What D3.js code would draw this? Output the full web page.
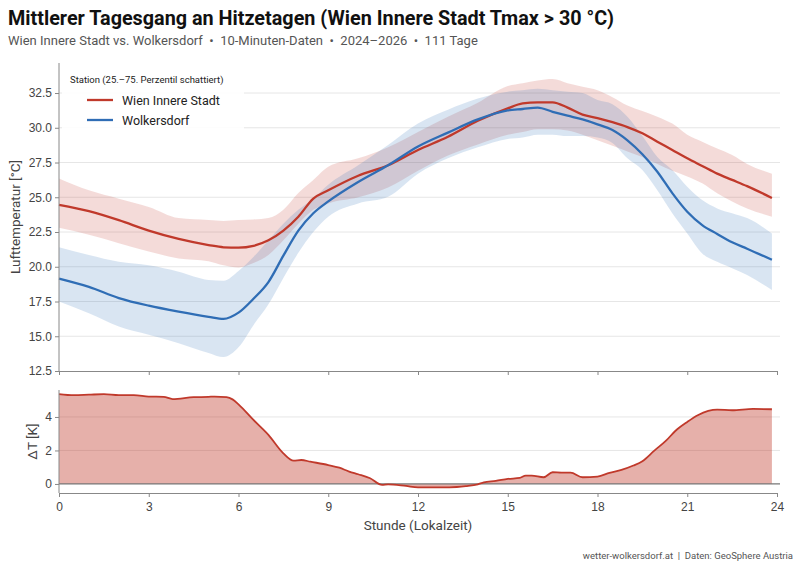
<!DOCTYPE html>
<html>
<head>
<meta charset="utf-8">
<script src="https://cdn.jsdelivr.net/npm/d3@7"></script>
<style>
  body { margin: 0; background: #fff; }
  svg { font-family: Roboto, "Noto Sans", sans-serif; }
  .axis path, .axis line { stroke: #888; }
  .axis text { fill: #444; font-size: 12px; }
  .grid line { stroke: #e6e6e6; }
  .pre { white-space: pre; }
</style>
</head>
<body>
<div id="chart"></div>
<script>
// hours of day for the temperature series
const hours = [0, 1, 2, 3, 4, 5, 5.5, 6, 6.5, 7, 7.5, 8, 8.5, 9, 10, 11, 12, 13, 14, 15, 15.5,
               16, 16.5, 17, 17.5, 18, 18.5, 19, 19.5, 20, 20.5, 21, 21.5, 22, 22.5, 23, 23.83];

// Wien Innere Stadt: median, 25. and 75. percentile
const wienMed = [24.45, 24.0, 23.35, 22.6, 22.0, 21.56, 21.4, 21.37, 21.5, 21.9, 22.6, 23.6, 24.9, 25.5, 26.55, 27.3, 28.4, 29.35, 30.5, 31.4, 31.75,
                 31.83, 31.83, 31.45, 30.95, 30.7, 30.4, 30.05, 29.6, 29.0, 28.4, 27.8, 27.25, 26.7, 26.25, 25.8, 24.95];
const wienLo  = [22.8, 22.3, 21.7, 21.1, 20.6, 20.4, 20.1, 19.95, 20.27, 20.85, 21.9, 23.1, 24.1, 24.56, 25.0, 25.7, 26.9, 28.0, 28.8, 29.5, 29.7,
                 29.9, 29.9, 29.8, 29.5, 29.1, 28.7, 28.3, 27.9, 27.4, 26.9, 26.5, 26.0, 25.28, 24.7, 24.2, 23.6];
const wienHi  = [26.35, 25.5, 24.9, 24.3, 23.5, 23.36, 23.3, 23.36, 23.4, 23.5, 24.1, 25.3, 26.24, 27.2, 27.8, 28.6, 29.7, 30.8, 31.8, 33.0, 33.2,
                 33.4, 33.5, 33.2, 32.95, 32.7, 32.2, 31.6, 31.2, 30.8, 30.3, 29.5, 29.0, 28.5, 28.04, 27.4, 26.7];

// Wolkersdorf: median, 25. and 75. percentile
const wolkMed = [19.15, 18.55, 17.75, 17.2, 16.77, 16.4, 16.25, 16.7, 17.7, 18.9, 20.8, 22.6, 23.85, 24.7, 26.1, 27.3, 28.65, 29.65, 30.6, 31.25, 31.35,
                 31.45, 31.15, 30.87, 30.6, 30.25, 29.84, 29.1, 28.1, 26.84, 25.3, 23.96, 23.0, 22.36, 21.76, 21.3, 20.5];
const wolkLo  = [17.5, 16.65, 15.7, 15.1, 14.5, 13.8, 13.5, 14.2, 15.8, 17.3, 19.2, 21.0, 22.5, 23.6, 24.56, 25.04, 26.7, 27.8, 28.6, 29.2, 29.3,
                 29.5, 29.5, 29.4, 29.4, 29.3, 28.9, 27.8, 26.96, 25.5, 23.85, 22.4, 20.96, 20.36, 19.9, 19.4, 18.33];
const wolkHi  = [21.4, 20.85, 20.36, 20.1, 19.64, 19.05, 19.0, 19.7, 20.7, 21.9, 23.1, 24.1, 24.9, 25.9, 27.3, 28.76, 30.3, 31.3, 32.1, 32.6, 32.7,
                 32.8, 32.7, 32.6, 32.5, 32.0, 31.7, 30.8, 29.4, 27.9, 26.96, 25.76, 24.8, 24.2, 23.85, 23.5, 22.4];

// temperature difference Wien - Wolkersdorf
const dHours = [0, 0.5, 1, 1.5, 2, 2.5, 3, 3.5, 3.8, 4.5, 5, 5.2, 5.6, 5.8, 6, 6.5, 7, 7.5, 7.84, 8.1, 8.4, 9, 9.37, 9.7, 10, 10.4, 10.8,
                11, 11.6, 12, 12.7, 13.05, 13.6, 14, 14.2, 14.6, 15, 15.4, 15.6, 15.8, 16.2, 16.5, 16.8, 17.1, 17.5, 18, 18.4, 18.8,
                19.2, 19.5, 19.9, 20.3, 20.6, 21, 21.35, 21.7, 22, 22.5, 23.2, 23.83];
const dT     = [5.37, 5.3, 5.33, 5.36, 5.3, 5.3, 5.22, 5.2, 5.07, 5.18, 5.2, 5.22, 5.18, 5.05, 4.75, 3.82, 2.93, 1.83, 1.39, 1.43, 1.33, 1.13, 0.97, 0.74, 0.58, 0.34, -0.06,
                -0.02, -0.12, -0.2, -0.2, -0.2, -0.13, -0.02, 0.1, 0.18, 0.3, 0.36, 0.5, 0.5, 0.4, 0.7, 0.68, 0.68, 0.4, 0.44, 0.66, 0.84,
                1.1, 1.36, 1.99, 2.6, 3.16, 3.7, 4.1, 4.36, 4.44, 4.4, 4.48, 4.46];

const xTicks = [0, 3, 6, 9, 12, 15, 18, 21, 24];
const tTicks = [12.5, 15.0, 17.5, 20.0, 22.5, 25.0, 27.5, 30.0, 32.5];
const dTicks = [0, 2, 4];

const series = [
  {name: 'Wien Innere Stadt', color: '#c0392b', med: wienMed, lo: wienLo, hi: wienHi},
  {name: 'Wolkersdorf',       color: '#2f6db5', med: wolkMed, lo: wolkLo, hi: wolkHi}
];

const width = 800, height = 569;
const left = 59, right = 777;
const top1 = 63, bottom1 = 371;
const top2 = 390, bottom2 = 493;

const svg = d3.select('#chart').append('svg')
  .attr('width', width)
  .attr('height', height);

const x = d3.scaleLinear().domain([0, 24]).range([left, right]);
const y = d3.scaleLinear().domain([12.5, 34.66]).range([bottom1, top1]);
const y2 = d3.scaleLinear().domain([-0.54, 5.61]).range([bottom2, top2]);

// grid lines
svg.append('g').attr('class', 'grid')
  .selectAll('line').data(tTicks.slice(1)).join('line')
  .attr('x1', left).attr('x2', right + 3)
  .attr('y1', d => y(d)).attr('y2', d => y(d));

svg.append('g').attr('class', 'grid')
  .selectAll('line').data(dTicks.slice(1)).join('line')
  .attr('x1', left).attr('x2', right + 3)
  .attr('y1', d => y2(d)).attr('y2', d => y2(d));

// percentile bands
const band = d3.area()
  .curve(d3.curveMonotoneX)
  .x(d => x(d.h))
  .y0(d => y(d.lo))
  .y1(d => y(d.hi));

const line = d3.line()
  .curve(d3.curveMonotoneX)
  .x(d => x(d.h))
  .y(d => y(d.v));

series.forEach(s => {
  svg.append('path')
    .datum(hours.map((h, i) => ({h, lo: s.lo[i], hi: s.hi[i]})))
    .attr('fill', s.color)
    .attr('fill-opacity', 0.18)
    .attr('d', band);
});

series.forEach(s => {
  svg.append('path')
    .datum(hours.map((h, i) => ({h, v: s.med[i]})))
    .attr('fill', 'none')
    .attr('stroke', s.color)
    .attr('stroke-width', 2.3)
    .attr('stroke-linejoin', 'round')
    .attr('d', line);
});

// axes of the upper panel
svg.append('g').attr('class', 'axis')
  .attr('transform', `translate(${left},0)`)
  .call(d3.axisLeft(y).tickValues(tTicks).tickFormat(d3.format('.1f')).tickSize(4).tickSizeOuter(0))
  .call(g => g.select('.domain').attr('d', `M0,${top1}V${bottom1}`));

svg.append('g').attr('class', 'axis')
  .attr('transform', `translate(0,${bottom1})`)
  .call(d3.axisBottom(x).tickValues(xTicks).tickFormat('').tickSize(4).tickSizeOuter(0));

// delta panel
const dData = dHours.map((h, i) => ({h, v: dT[i]}));

svg.append('path')
  .datum(dData)
  .attr('fill', '#c0392b')
  .attr('fill-opacity', 0.4)
  .attr('d', d3.area().curve(d3.curveMonotoneX).x(d => x(d.h)).y0(y2(0)).y1(d => y2(d.v)));

svg.append('line')
  .attr('x1', left).attr('x2', right + 3)
  .attr('y1', y2(0)).attr('y2', y2(0))
  .attr('stroke', '#777').attr('stroke-width', 1.2);

svg.append('path')
  .datum(dData)
  .attr('fill', 'none')
  .attr('stroke', '#c0392b')
  .attr('stroke-width', 1.8)
  .attr('d', d3.line().curve(d3.curveMonotoneX).x(d => x(d.h)).y(d => y2(d.v)));

svg.append('g').attr('class', 'axis')
  .attr('transform', `translate(${left},0)`)
  .call(d3.axisLeft(y2).tickValues(dTicks).tickFormat(d3.format('d')).tickSize(4).tickSizeOuter(0))
  .call(g => g.select('.domain').attr('d', `M0,${top2}V${bottom2}`));

svg.append('g').attr('class', 'axis')
  .attr('transform', `translate(0,${bottom2})`)
  .call(d3.axisBottom(x).tickValues(xTicks).tickSize(4).tickSizeOuter(0))
  .call(g => g.selectAll('text').attr('dy', '0.9em'));

// axis titles
svg.append('text')
  .attr('transform', `translate(20,${(top1 + bottom1) / 2}) rotate(-90)`)
  .attr('text-anchor', 'middle')
  .attr('fill', '#444').attr('font-size', 13.5)
  .text('Lufttemperatur [°C]');

svg.append('text')
  .attr('transform', `translate(37,${(top2 + bottom2) / 2}) rotate(-90)`)
  .attr('text-anchor', 'middle')
  .attr('fill', '#444').attr('font-size', 13.5)
  .text('ΔT [K]');

svg.append('text')
  .attr('x', (left + right) / 2).attr('y', 530)
  .attr('text-anchor', 'middle')
  .attr('fill', '#444').attr('font-size', 13.5)
  .text('Stunde (Lokalzeit)');

// legend
const legend = svg.append('g').attr('transform', 'translate(62,68)');
legend.append('rect')
  .attr('width', 182).attr('height', 62)
  .attr('fill', '#fff').attr('fill-opacity', 0.9);
legend.append('text')
  .attr('x', 8).attr('y', 15)
  .attr('font-size', 9.5).attr('fill', '#222')
  .text('Station (25.–75. Perzentil schattiert)');
series.forEach((s, i) => {
  const g = legend.append('g').attr('transform', `translate(0,${32 + i * 20})`);
  g.append('line')
    .attr('x1', 25).attr('x2', 51)
    .attr('stroke', s.color).attr('stroke-width', 2.3);
  g.append('text')
    .attr('x', 60).attr('y', 4.5)
    .attr('font-size', 12.5).attr('fill', '#222')
    .text(s.name);
});

// titles
svg.append('text')
  .attr('x', 8).attr('y', 25)
  .attr('font-size', 19.8).attr('font-weight', 700).attr('fill', '#111')
  .text('Mittlerer Tagesgang an Hitzetagen (Wien Innere Stadt Tmax > 30 °C)');

svg.append('text')
  .attr('class', 'pre')
  .attr('x', 8).attr('y', 45)
  .attr('font-size', 13).attr('fill', '#555')
  .text('Wien Innere Stadt vs. Wolkersdorf  •  10-Minuten-Daten  •  2024–2026  •  111 Tage');

svg.append('text')
  .attr('class', 'pre')
  .attr('x', 793).attr('y', 559)
  .attr('text-anchor', 'end')
  .attr('font-size', 9.5).attr('fill', '#555')
  .text('wetter-wolkersdorf.at  |  Daten: GeoSphere Austria');
</script>
</body>
</html>
